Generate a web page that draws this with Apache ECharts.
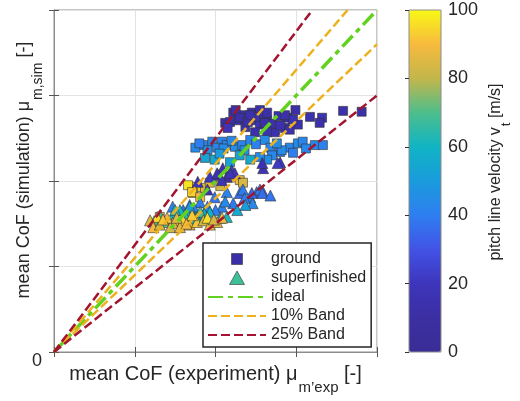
<!DOCTYPE html>
<html>
<head>
<meta charset="utf-8">
<script src="https://cdn.jsdelivr.net/npm/echarts@6/dist/echarts.min.js"></script>
<style>
  html, body { margin: 0; padding: 0; background: #fff; }
  #cof-chart { width: 520px; height: 401px; }
</style>
</head>
<body>
<div id="cof-chart"></div>
<script>
// [mu_exp, mu_sim, pitch line velocity]
const groundPoints = [
    [2.22, 2.80, 14], [2.12, 2.68, 12], [2.18, 2.69, 16], [2.28, 2.71, 13], [2.33, 2.77, 15],
    [2.45, 2.80, 12], [2.55, 2.83, 14], [2.45, 2.71, 18], [2.55, 2.66, 16], [2.65, 2.62, 13],
    [2.64, 2.71, 15], [2.89, 2.74, 14], [2.86, 2.62, 17], [2.99, 2.83, 12], [3.02, 2.66, 15],
    [2.92, 2.60, 13], [3.17, 2.75, 14], [3.32, 2.74, 16], [3.29, 2.68, 13], [3.58, 2.82, 14],
    [3.81, 2.81, 12], [2.37, 2.63, 17], [2.74, 2.57, 15], [2.25, 2.83, 13],
    [2.30, 2.74, 11], [2.40, 2.69, 14], [2.50, 2.75, 16], [2.70, 2.67, 13], [2.78, 2.76, 15],
    [2.96, 2.72, 17], [2.15, 2.62, 19], [2.60, 2.78, 12], [2.43, 2.77, 14], [2.64, 2.80, 13],
    [2.61, 2.68, 12], [2.64, 2.57, 16], [2.49, 2.57, 14], [2.80, 2.65, 15], [2.86, 2.77, 13],
    [1.85, 2.42, 42], [1.96, 2.46, 44], [2.08, 2.46, 41], [2.14, 2.42, 43], [2.24, 2.40, 45],
    [2.33, 2.42, 42], [2.61, 2.48, 44], [2.68, 2.39, 42], [2.80, 2.34, 41], [2.92, 2.39, 43],
    [3.02, 2.44, 44], [3.08, 2.46, 42], [3.23, 2.42, 43], [3.33, 2.42, 41], [1.75, 2.39, 44],
    [1.90, 2.36, 46], [2.02, 2.39, 42], [2.82, 2.36, 44], [2.70, 2.30, 43], [2.64, 2.25, 45],
    [2.43, 2.48, 42], [2.55, 2.28, 44], [1.80, 2.44, 40], [2.10, 2.38, 44], [2.20, 2.47, 43],
    [2.50, 2.43, 41], [2.76, 2.44, 45], [2.96, 2.33, 40], [3.12, 2.38, 43], [2.36, 2.36, 46],
    [1.99, 2.25, 55], [2.18, 2.22, 53], [2.43, 2.25, 56], [1.87, 2.27, 54], [2.05, 2.32, 50],
    [2.30, 2.30, 52],
    [1.77, 1.93, 92], [1.87, 1.92, 85], [2.30, 2.01, 88], [2.34, 1.98, 84], [1.72, 1.86, 96],
    [2.18, 2.04, 90], [1.66, 1.95, 97], [1.71, 1.87, 94], [1.93, 1.98, 86], [2.06, 1.94, 83],
    [1.81, 1.81, 90], [1.31, 1.58, 85], [1.50, 1.52, 88], [1.81, 1.60, 84]
];
const superfinishedPoints = [
    [2.59, 2.15, 18], [2.80, 2.22, 20], [2.09, 2.15, 16], [2.20, 2.13, 22], [2.03, 2.07, 18],
    [2.14, 2.05, 15], [2.24, 2.09, 20], [2.58, 2.21, 17], [1.93, 2.05, 21], [2.02, 2.09, 16],
    [2.18, 2.09, 19], [2.77, 2.21, 22], [2.08, 2.01, 18], [1.78, 1.99, 20], [1.90, 1.90, 17],
    [1.81, 1.75, 40], [1.99, 1.81, 38], [2.14, 1.87, 42], [2.30, 1.86, 36], [2.34, 1.90, 40],
    [2.51, 1.87, 38], [2.43, 1.81, 42], [2.59, 1.87, 37], [1.90, 1.70, 44], [2.08, 1.70, 41],
    [2.22, 1.74, 39], [2.45, 1.86, 35], [2.55, 1.90, 40], [2.58, 1.86, 36], [2.46, 1.74, 43],
    [2.68, 1.83, 38], [1.68, 1.72, 45], [1.47, 1.70, 40], [1.60, 1.66, 38], [1.73, 1.69, 42],
    [2.00, 1.66, 40], [2.12, 1.76, 44], [2.36, 1.80, 40],
    [1.47, 1.58, 58], [1.65, 1.63, 55], [1.77, 1.58, 60], [2.06, 1.57, 57], [2.14, 1.58, 62],
    [2.27, 1.66, 55], [1.68, 1.70, 52], [1.56, 1.66, 60], [2.37, 1.72, 50], [1.93, 1.64, 58],
    [1.74, 1.56, 60], [1.86, 1.62, 56], [1.62, 1.60, 64],
    [1.31, 1.60, 68], [1.50, 1.66, 66], [1.81, 1.64, 70], [1.38, 1.52, 72], [1.24, 1.53, 70],
    [1.19, 1.54, 85], [1.23, 1.46, 90], [1.31, 1.49, 84], [1.47, 1.51, 88], [1.60, 1.54, 94],
    [1.68, 1.49, 86], [1.77, 1.52, 92], [1.85, 1.54, 84], [1.93, 1.49, 88], [2.02, 1.52, 85],
    [2.08, 1.57, 90], [1.28, 1.58, 95], [1.44, 1.46, 83], [1.56, 1.46, 87], [1.90, 1.57, 96],
    [1.40, 1.57, 89], [1.71, 1.60, 93], [1.35, 1.55, 92], [1.52, 1.57, 86], [1.64, 1.50, 90],
    [1.98, 1.55, 83]
];
// reference lines (start / end points)
const idealLine = [[0, 0], [4, 4]];
const band10Upper = [[0, 0], [3.636, 4]];
const band10Lower = [[0, 0], [4, 3.6]];
const band25Upper = [[0, 0], [3.2, 4]];
const band25Lower = [[0, 0], [4, 3]];
const velocityTicks = [0, 20, 40, 60, 80, 100];
const legendNames = ['ground', 'superfinished', 'ideal', '10% Band', '25% Band'];

(function () {
    const FONT = '"Liberation Sans", Arial, sans-serif';
    const TEXT = '#262626';
    const parula = ['#3a2d96', '#3b2fa2', '#3d35bc', '#4253e6', '#2e7ef0', '#1a9bdc',
        '#10b4c4', '#4dbe8c', '#c3b64a', '#f7ba3e', '#f9f816'];
    // legend markers: invisible corner moves keep the 58x14 box, marker drawn in the middle
    const squareIcon = 'path://M0,0M58,14M23.5,1.5L34.5,1.5L34.5,12.5L23.5,12.5Z';
    const triangleIcon = 'path://M0,0M58,14M29,0L36.5,13.5L21.5,13.5Z';

    function dashLine(name, data, color, width, type) {
        return {
            name: name,
            type: 'line',
            data: data,
            symbol: 'none',
            showSymbol: false,
            silent: true,
            z: 5,
            lineStyle: { color: color, width: width, type: type },
            itemStyle: { color: color }
        };
    }

    function initCofChart() {
        const el = document.getElementById('cof-chart');
        const chart = echarts.init(el, null, { renderer: 'canvas' });
        const axisGrey = '#8c8c8c';
        const tick = { show: true, inside: true, length: 5, lineStyle: { color: '#555' } };

        const option = {
            animation: false,
            backgroundColor: '#fff',
            grid: [
                { left: 54, top: 10, width: 323, height: 342, show: true, borderColor: axisGrey, borderWidth: 1, backgroundColor: '#fff' },
                { left: 409, top: 10, width: 32, height: 342, show: true, borderColor: axisGrey, borderWidth: 1, z: 10 }
            ],
            xAxis: [
                {
                    type: 'value', gridIndex: 0, min: 0, max: 4, interval: 1,
                    axisLine: { show: true, lineStyle: { color: axisGrey } },
                    axisTick: tick,
                    axisLabel: { show: false },
                    splitLine: { show: true, lineStyle: { color: '#e3e3e3' } },
                    name: '{t|mean CoF (experiment) \u03bc}{s|m\u2019exp}{t| [-]}',
                    nameLocation: 'middle',
                    nameGap: 12,
                    nameMoveOverlap: false,
                    nameTextStyle: {
                        rich: {
                            t: { fontSize: 20, lineHeight: 22, verticalAlign: 'top', color: TEXT, fontFamily: FONT },
                            s: { fontSize: 15, lineHeight: 16, verticalAlign: 'top', color: TEXT, fontFamily: FONT, padding: [16, 0, 0, 1] }
                        }
                    }
                },
                {
                    type: 'value', gridIndex: 0, position: 'top', min: 0, max: 4, interval: 1,
                    axisLine: { show: false }, axisTick: tick, axisLabel: { show: false }, splitLine: { show: false }
                },
                {
                    type: 'value', gridIndex: 1, min: 0, max: 1, show: false
                }
            ],
            yAxis: [
                {
                    type: 'value', gridIndex: 0, min: 0, max: 4, interval: 1,
                    axisLine: { show: true, lineStyle: { color: axisGrey } },
                    axisTick: tick,
                    axisLabel: {
                        fontSize: 18, color: TEXT, fontFamily: FONT, margin: 12,
                        verticalAlign: 'top',
                        formatter: function (v) { return v === 0 ? '0' : ''; }
                    },
                    splitLine: { show: true, lineStyle: { color: '#e3e3e3' } },
                    name: '{t|mean CoF (simulation) \u03bc}{s|m,sim}{t| [-]}',
                    nameLocation: 'middle',
                    nameGap: 17,
                    nameRotate: 90,
                    nameMoveOverlap: false,
                    nameTextStyle: {
                        padding: [0, 0, 0, 22],
                        rich: {
                            t: { fontSize: 18, lineHeight: 22, verticalAlign: 'top', color: TEXT, fontFamily: FONT },
                            s: { fontSize: 14, lineHeight: 16, verticalAlign: 'top', color: TEXT, fontFamily: FONT, padding: [16, 0, 0, 1] }
                        }
                    }
                },
                {
                    type: 'value', gridIndex: 0, position: 'right', min: 0, max: 4, interval: 1,
                    axisLine: { show: false }, axisTick: tick, axisLabel: { show: false }, splitLine: { show: false }
                },
                {
                    type: 'value', gridIndex: 1, position: 'right', min: 0, max: 100, interval: 20,
                    z: 10,
                    axisLine: { show: false },
                    axisTick: { show: true, inside: true, length: 4, lineStyle: { color: '#333' } },
                    axisLabel: {
                        fontSize: 18, color: TEXT, fontFamily: FONT, margin: 7,
                        customValues: velocityTicks
                    },
                    splitLine: { show: false },
                    name: '{t|pitch line velocity v}{s|t}{t| [m/s]}',
                    nameLocation: 'middle',
                    nameGap: 47,
                    nameRotate: 90,
                    nameMoveOverlap: false,
                    nameTextStyle: {
                        padding: [0, 0, 0, 18],
                        rich: {
                            t: { fontSize: 16, lineHeight: 18, verticalAlign: 'top', color: TEXT, fontFamily: FONT },
                            s: { fontSize: 13, lineHeight: 15, verticalAlign: 'top', color: TEXT, fontFamily: FONT, padding: [12, 0, 0, 1] }
                        }
                    }
                }
            ],
            visualMap: {
                type: 'continuous',
                min: 0,
                max: 100,
                dimension: 2,
                seriesIndex: [0, 1],
                calculable: false,
                hoverLink: false,
                orient: 'vertical',
                left: 409,
                top: 10,
                itemWidth: 32,
                itemHeight: 342,
                padding: 0,
                text: null,
                showLabel: false,
                inRange: { color: parula }
            },
            legend: {
                orient: 'vertical',
                left: 203,
                top: 243,
                padding: [8, 5, 4, 4],
                itemWidth: 58,
                itemHeight: 14,
                itemGap: 3,
                backgroundColor: '#fff',
                borderColor: '#262626',
                borderWidth: 1.5,
                borderRadius: 0,
                selectedMode: false,
                textStyle: { fontSize: 16, color: TEXT, fontFamily: FONT },
                data: [
                    { name: legendNames[0], icon: squareIcon, itemStyle: { color: '#3b2fa8', borderColor: '#333', borderWidth: 0.6 } },
                    { name: legendNames[1], icon: triangleIcon, itemStyle: { color: '#3ebf98', borderColor: '#333', borderWidth: 0.6 } },
                    { name: legendNames[2], itemStyle: { opacity: 0 } },
                    { name: legendNames[3], itemStyle: { opacity: 0 } },
                    { name: legendNames[4], itemStyle: { opacity: 0 } }
                ]
            },
            series: [
                {
                    name: legendNames[0],
                    type: 'scatter',
                    symbol: 'rect',
                    symbolSize: 9,
                    data: groundPoints,
                    itemStyle: { borderColor: '#333', borderWidth: 0.6, opacity: 1 }
                },
                {
                    name: legendNames[1],
                    type: 'scatter',
                    symbol: 'triangle',
                    symbolSize: 11,
                    data: superfinishedPoints,
                    itemStyle: { borderColor: '#333', borderWidth: 0.6, opacity: 1 }
                },
                dashLine(legendNames[2], idealLine, '#62d11f', 3.5, [15, 5, 5, 5]),
                dashLine(legendNames[3], band10Upper, '#edb120', 2.5, [9, 4]),
                dashLine(legendNames[3], band10Lower, '#edb120', 2.5, [9, 4]),
                dashLine(legendNames[4], band25Upper, '#a2142f', 2.5, [9, 4]),
                dashLine(legendNames[4], band25Lower, '#a2142f', 2.5, [9, 4])
            ]
        };
        chart.setOption(option);
        return chart;
    }

    document.addEventListener('DOMContentLoaded', function () {
        if (typeof echarts === 'undefined') {
            console.error('ECharts not loaded');
            return;
        }
        initCofChart();
    });
})();
</script>
</body>
</html>
